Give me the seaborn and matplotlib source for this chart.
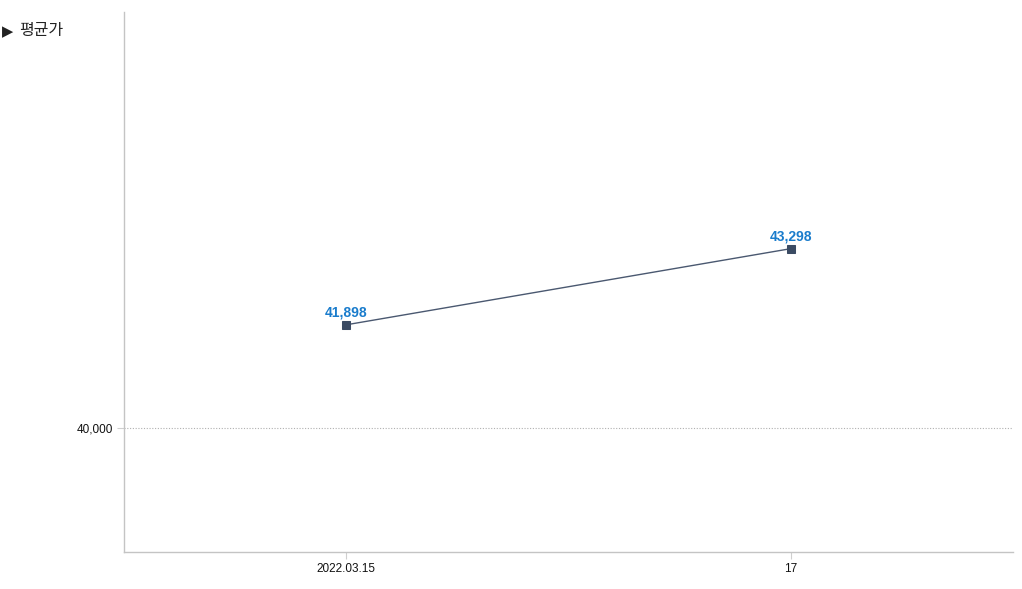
import matplotlib
matplotlib.use("Agg")
import matplotlib.pyplot as plt
import seaborn as sns
import pandas as pd

dates = ["2022.03.15", "17"]
avg_price = [41898, 43298]
y_ticks = [40000]
title_mark = "▶"
title = "평균가"

sns.set_theme(style="white")
plt.rcParams['font.family'] = ['Noto Sans CJK KR', 'DejaVu Sans']

df = pd.DataFrame({"date": dates, "price": avg_price})

fig = plt.figure(figsize=(10.22, 5.89), dpi=100)
ax = fig.add_axes([124/1022, 1-552/589, (1013-124)/1022, (552-12)/589])

sns.lineplot(data=df, x="date", y="price", ax=ax, color="#4a5870", linewidth=1,
             marker="s", markersize=6, markerfacecolor="#3b4b63",
             markeredgecolor="#3b4b63", sort=False)

for i, v in enumerate(avg_price):
    ax.annotate(f"{v:,}", (i, v), xytext=(0, 3.5), textcoords="offset points",
                ha="center", va="bottom", color="#1a7ccc", fontsize=10,
                fontweight="bold", family=['Liberation Sans', 'DejaVu Sans'])

ax.set_xlim(-0.5, 1.5)
ax.set_ylim(37720, 47650)
ax.set_yticks(y_ticks)
ax.set_yticklabels([f"{t:,}" for t in y_ticks])
ax.set_xlabel("")
ax.set_ylabel("")
ax.grid(axis="y", color="#b0b0b0", linestyle=(0, (1, 1.5)), linewidth=0.8)
ax.grid(axis="x", visible=False)

for side in ["top", "right"]:
    ax.spines[side].set_visible(False)
for side in ["left", "bottom"]:
    ax.spines[side].set_color("#c4c4c4")
    ax.spines[side].set_linewidth(1)

ax.tick_params(axis="both", which="major", length=5, width=0.8, color="#cfcfcf",
               labelsize=8.5, labelcolor="#111111", pad=3, direction="out",
               left=True, bottom=True)
for lab in ax.get_xticklabels() + ax.get_yticklabels():
    lab.set_family(['Liberation Sans', 'DejaVu Sans'])

fig.text(2/1022, 1-32/589, title_mark, fontsize=10.5, color="#222222", va="center", ha="left",
         family=['DejaVu Sans'])
fig.text(19/1022, 1-31/589, title, fontsize=11.5, color="#222222", va="center", ha="left",
         family=['Noto Sans CJK KR', 'DejaVu Sans'])

fig.savefig("out.png", dpi=100)
